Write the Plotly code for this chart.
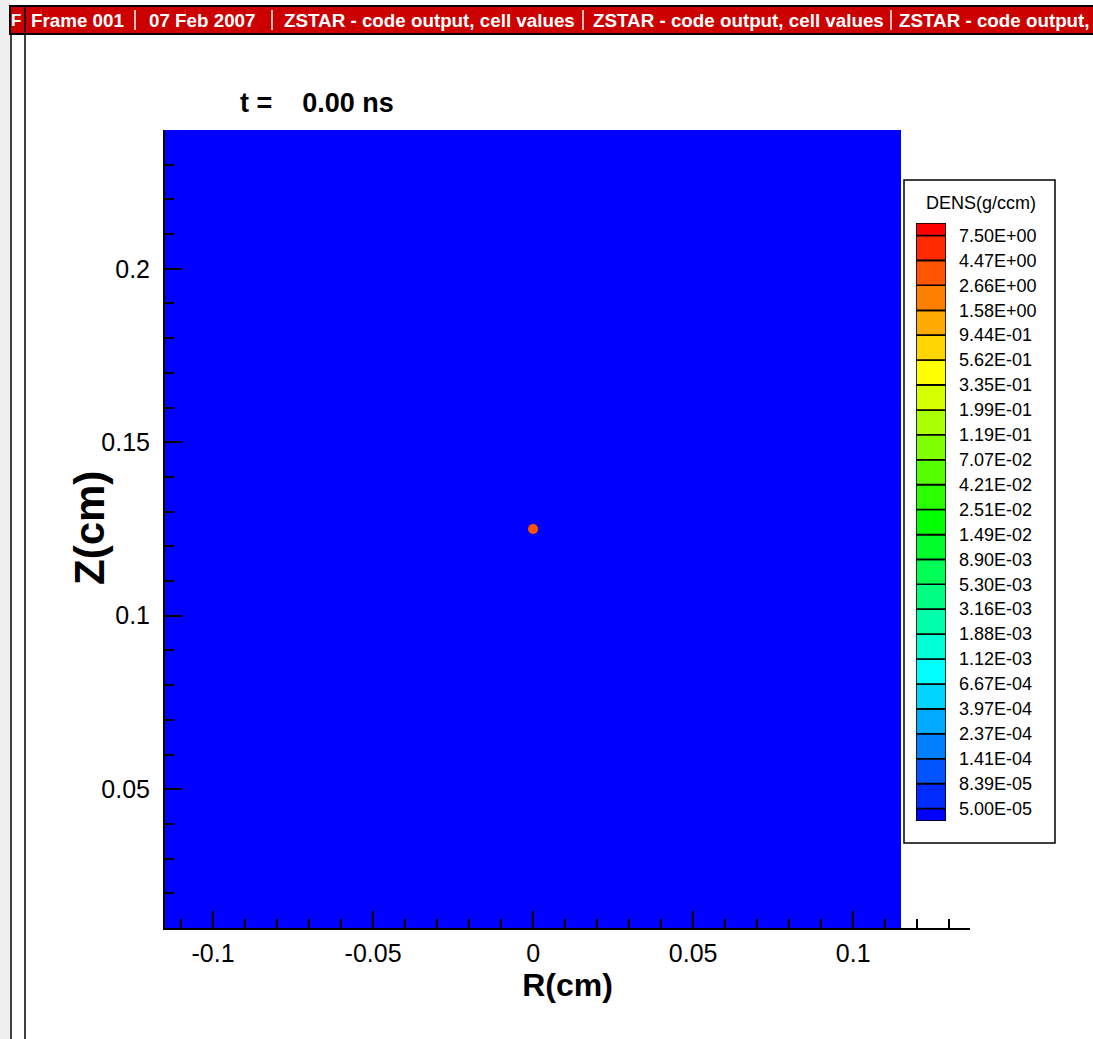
import math
import colorsys
import plotly.graph_objects as go

# ---------------- data ----------------
time_ns = 0.00
field_r = [-0.115, 0.115]          # R extent of the cell field (cm)
field_z = [0.01, 0.24]             # Z extent of the cell field (cm)
background_density = [[4.0e-5]]    # g/ccm (lowest band)
pellet_r = [0.0]
pellet_z = [0.125]
pellet_density = [3.5]             # g/ccm
level_labels = ["7.50E+00", "4.47E+00", "2.66E+00", "1.58E+00", "9.44E-01",
                "5.62E-01", "3.35E-01", "1.99E-01", "1.19E-01", "7.07E-02",
                "4.21E-02", "2.51E-02", "1.49E-02", "8.90E-03", "5.30E-03",
                "3.16E-03", "1.88E-03", "1.12E-03", "6.67E-04", "3.97E-04",
                "2.37E-04", "1.41E-04", "8.39E-05", "5.00E-05"]
r_tick_vals = [-0.1, -0.05, 0.0, 0.05, 0.1]
r_tick_text = ["-0.1", "-0.05", "0", "0.05", "0.1"]
z_tick_vals = [0.05, 0.1, 0.15, 0.2]
z_tick_text = ["0.05", "0.1", "0.15", "0.2"]
header_segments = ["Frame 001", "07 Feb 2007",
                   "ZSTAR - code output, cell values",
                   "ZSTAR - code output, cell values",
                   "ZSTAR - code output,"]

# ---------------- helpers ----------------
W, H = 1093, 1039
FONT = "Liberation Sans, Arial, Helvetica, sans-serif"


def px(x):
    return x / W


def py(y):
    return 1 - y / H


# band boundaries in log10 space (ascending)
bounds = sorted(math.log10(float(s)) for s in level_labels)
lo_edge = bounds[0] - (bounds[1] - bounds[0]) / 2
hi_edge = bounds[-1] + (bounds[-1] - bounds[-2]) / 2
edges = [lo_edge] + bounds + [hi_edge]
nb = len(edges) - 1  # 25 bands
span = hi_edge - lo_edge


def band_color(k):
    # k = 0 (bottom, blue) ... nb-1 (top, red)
    hue = (240 - 240 * k / (nb - 1)) / 360.0
    r, g, b = colorsys.hsv_to_rgb(hue, 1, 1)
    return f"rgb({round(r*255)},{round(g*255)},{round(b*255)})"


colorscale = []
for k in range(nb):
    c = band_color(k)
    colorscale.append([(edges[k] - lo_edge) / span, c])
    colorscale.append([(edges[k + 1] - lo_edge) / span, c])
colorscale[0][0] = 0.0
colorscale[-1][0] = 1.0

fig = go.Figure()

# cell field
fig.add_trace(go.Heatmap(
    x=field_r, y=field_z,
    z=[[math.log10(v) for v in row] for row in background_density],
    coloraxis="coloraxis", hoverinfo="skip", xaxis="x", yaxis="y"))

# pellet
fig.add_trace(go.Scatter(
    x=pellet_r, y=pellet_z, mode="markers",
    marker=dict(size=10, color=[math.log10(v) for v in pellet_density],
                coloraxis="coloraxis", line=dict(width=0)),
    hoverinfo="skip", xaxis="x", yaxis="y", showlegend=False))

# contour legend swatches
mids = [(edges[k] + edges[k + 1]) / 2 for k in range(nb)]
heights = [edges[k + 1] - edges[k] for k in range(nb)]
fig.add_trace(go.Bar(
    x=[0] * nb, y=heights, base=edges[:-1], width=1,
    marker=dict(color=mids, coloraxis="coloraxis",
                line=dict(color="black", width=1.6)),
    hoverinfo="skip", xaxis="x2", yaxis="y2", showlegend=False))

axis_common = dict(showgrid=False, zeroline=False, showline=True,
                   linecolor="black", linewidth=2, mirror=False,
                   ticks="inside", ticklen=17, tickwidth=2, tickcolor="black",
                   tickfont=dict(family=FONT, size=25, color="black"))

fig.update_layout(
    width=W, height=H,
    margin=dict(l=0, r=0, t=0, b=0),
    paper_bgcolor="white", plot_bgcolor="white",
    showlegend=False,
    coloraxis=dict(colorscale=colorscale, cmin=lo_edge, cmax=hi_edge,
                   showscale=False),
    xaxis=dict(domain=[px(165), px(970)], range=[-0.115, 0.1365],
               anchor="y", tickmode="array", tickvals=r_tick_vals,
               ticktext=r_tick_text, ticklabelstandoff=2,
               minor=dict(tickmode="linear", tick0=0, dtick=0.01,
                          ticks="inside", ticklen=9, tickwidth=2,
                          tickcolor="black"),
               title=dict(text="R(cm)", standoff=3,
                          font=dict(family=FONT, size=32, color="black",
                                    weight="bold")),
               **axis_common),
    yaxis=dict(domain=[py(928), py(130)], range=[0.01, 0.24],
               anchor="x", tickmode="array", tickvals=z_tick_vals,
               ticktext=z_tick_text, ticklabelstandoff=8,
               minor=dict(tickmode="linear", tick0=0, dtick=0.01,
                          ticks="inside", ticklen=9, tickwidth=2,
                          tickcolor="black"),
               **axis_common),
    xaxis2=dict(domain=[px(916), px(946)], range=[-0.5, 0.5], anchor="y2",
                visible=False, fixedrange=True),
    yaxis2=dict(domain=[py(821), py(223)], range=[lo_edge, hi_edge],
                anchor="x2", side="right", showgrid=False, zeroline=False,
                showline=False, ticks="", tickmode="array",
                tickvals=bounds, ticktext=sorted(level_labels,
                                                 key=lambda s: float(s)),
                ticklabelstandoff=12,
                tickfont=dict(family=FONT, size=18, color="black"),
                fixedrange=True),
    title=dict(text="t =" + "\u00a0" * 4 + f"{time_ns:.2f} ns",
               x=px(240), xanchor="left", y=py(103), yanchor="middle",
               font=dict(family=FONT, size=27, color="black", weight="bold")),
)

shapes = [
    # left gray strip
    dict(type="rect", xref="paper", yref="paper", x0=0, x1=px(10), y0=0, y1=1,
         fillcolor="#efefef", line=dict(width=0), layer="below"),
    # legend box
    dict(type="rect", xref="paper", yref="paper", x0=px(904), x1=px(1055),
         y0=py(843), y1=py(180), fillcolor="white",
         line=dict(color="black", width=1.5), layer="below"),
    # header bar
    dict(type="rect", xref="paper", yref="paper", x0=px(10), x1=1.01,
         y0=py(34), y1=py(6), fillcolor="#cc0000",
         line=dict(color="black", width=2), layer="above"),
    # frame lines
    dict(type="line", xref="paper", yref="paper", x0=px(11), x1=px(11),
         y0=0, y1=py(34), line=dict(color="black", width=1.5)),
    dict(type="line", xref="paper", yref="paper", x0=px(25), x1=px(25),
         y0=0, y1=py(6), line=dict(color="black", width=1.5)),
]

# header separators (thin white bars) and segments
seg_x = [29, 147, 282, 591, 897]
sep_x = [135, 272, 583, 891]
for sx in sep_x:
    shapes.append(dict(type="line", xref="paper", yref="paper",
                       x0=px(sx), x1=px(sx), y0=py(30), y1=py(10),
                       line=dict(color="white", width=1.5)))
fig.update_layout(shapes=shapes)

fig.add_annotation(x=px(23), y=py(20), xref="paper", yref="paper",
                   text="F", showarrow=False, xanchor="right", yanchor="middle",
                   font=dict(family=FONT, size=17, color="white", weight="bold"))
for sx, seg in zip(seg_x, header_segments):
    fig.add_annotation(x=px(sx), y=py(20), xref="paper", yref="paper",
                       text=seg, showarrow=False, xanchor="left",
                       yanchor="middle",
                       font=dict(family=FONT, size=18.8, color="white",
                                 weight="bold"))

fig.add_annotation(x=px(981), y=py(203), xref="paper", yref="paper",
                   text="DENS(g/ccm)", showarrow=False, xanchor="center",
                   yanchor="middle",
                   font=dict(family=FONT, size=18, color="black"))

# vertical axis title
fig.add_annotation(x=px(89), y=py(528), xref="paper", yref="paper",
                   text="Z(cm)", showarrow=False, textangle=-90,
                   xanchor="center", yanchor="middle",
                   font=dict(family=FONT, size=42, color="black",
                             weight="bold"))

fig.write_html("out.html")
